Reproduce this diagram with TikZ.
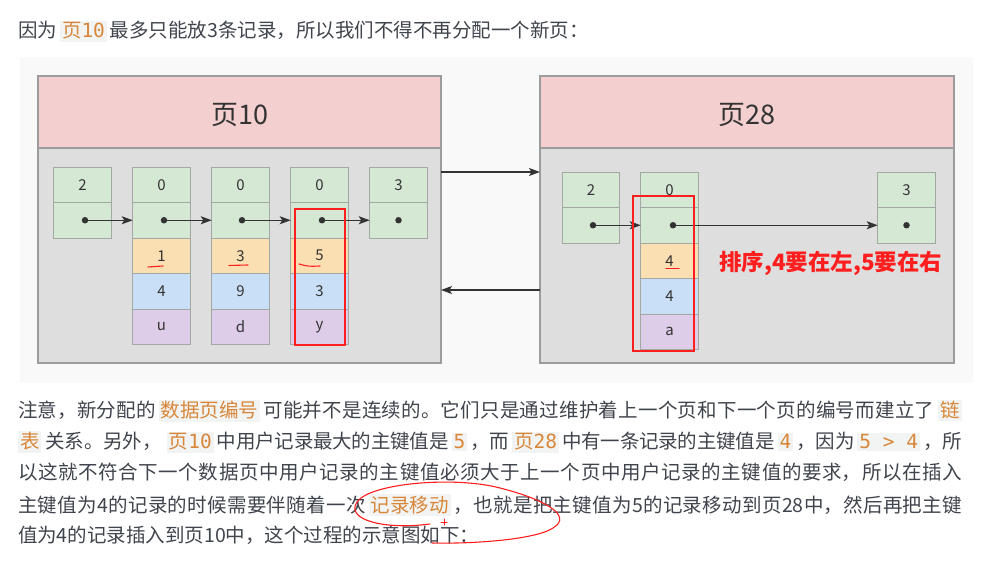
\documentclass[tikz,border=0pt]{standalone}
\usepackage{fontspec}
\setmainfont{Noto Sans CJK SC}
\newfontfamily\codefont{DejaVu Sans Mono}
\usetikzlibrary{arrows.meta}
\definecolor{panelbg}{HTML}{F9F9F9}
\definecolor{pagebody}{HTML}{DEDEDE}
\definecolor{pagehead}{HTML}{F3CFCF}
\definecolor{pageline}{HTML}{9C9C9C}
\definecolor{cgreen}{HTML}{D5E8D4}
\definecolor{corange}{HTML}{F9DFB1}
\definecolor{cblue}{HTML}{C9DFF7}
\definecolor{cpurple}{HTML}{DDCDE8}
\definecolor{cellline}{HTML}{A2A8A2}
\definecolor{ink}{HTML}{333333}
\definecolor{bodytext}{HTML}{40444C}
\definecolor{codefg}{HTML}{D8873A}
\definecolor{codebg}{HTML}{F2F3F3}
\definecolor{redmark}{HTML}{FF1E1E}
\XeTeXlinebreaklocale "zh"
\XeTeXlinebreakskip=0pt plus 4pt minus 1pt
\hbadness=10000 \hfuzz=300pt \vbadness=10000
\newcommand\codespan[1]{{\setlength\fboxsep{2pt}\colorbox{codebg}{\textcolor{codefg}{#1}}}}
\newcommand\cm[1]{{\codefont #1}}
\newcommand\fullline[1]{\parbox[t]{944pt}{\noindent\parfillskip=0pt\relax\linepenalty=5000\relax #1\par}}
\begin{document}
\begin{tikzpicture}[x=1pt,y=-1pt,
  pagebox/.style={draw=pageline, fill=pagebody, line width=1.1pt, inner sep=0pt, outer sep=0pt},
  headbox/.style={draw=pageline, fill=pagehead, line width=1.1pt, inner sep=0pt, outer sep=0pt},
  headtext/.style={inner sep=0pt, text=ink, font=\fontsize{27}{30}\selectfont},
  cell/.style={draw=cellline, line width=0.8pt, minimum width=57.5pt, minimum height=35.5pt, inner sep=0pt, outer sep=0pt, text=ink, font=\fontsize{15}{17}\selectfont},
  gcell/.style={cell, fill=cgreen},
  ocell/.style={cell, fill=corange},
  bcell/.style={cell, fill=cblue},
  pcell/.style={cell, fill=cpurple},
  dotnode/.style={circle, fill=ink, inner sep=0pt, minimum size=6.5pt},
  arr/.style={draw=ink, line width=1.3pt, -{Stealth[length=11pt,width=8pt,inset=2.5pt]}},
  redbox/.style={draw=redmark, line width=1.3pt},
  redline/.style={draw=redmark, line width=1.1pt, line cap=round},
  para/.style={inner sep=0pt, outer sep=0pt, anchor=base west, text=bodytext, font=\fontsize{19.5}{30}\selectfont}]
\useasboundingbox[fill=white] (0,0) rectangle (997,561);
\fill[panelbg] (20,57) rectangle (973,383);

% pages
\node[pagebox, minimum width=403pt, minimum height=287pt] (p10) at (239.5,219.5) {};
\node[headbox, minimum width=403pt, minimum height=72pt] (p10h) at (239.5,112) {};
\node[headtext] (p10t) at (240,115) {页10};
\node[pagebox, minimum width=414pt, minimum height=287pt] (p28) at (747,219.5) {};
\node[headbox, minimum width=414pt, minimum height=72pt] (p28h) at (747,112) {};
\node[headtext] (p28t) at (747,115) {页28};

% page 10 cells
\node[gcell] (a1t) at (82.5,184.75) {2};
\node[gcell] (a1b) at (82.5,220.25) {};
\node[gcell] (a2t) at (161.5,184.75) {0};
\node[gcell] (a2b) at (161.5,220.25) {};
\node[ocell] (a2k) at (161.5,255.75) {1};
\node[bcell] (a2v) at (161.5,291.25) {4};
\node[pcell] (a2s) at (161.5,326.75) {u};
\node[gcell] (a3t) at (240.5,184.75) {0};
\node[gcell] (a3b) at (240.5,220.25) {};
\node[ocell] (a3k) at (240.5,255.75) {3};
\node[bcell] (a3v) at (240.5,291.25) {9};
\node[pcell] (a3s) at (240.5,326.75) {d};
\node[gcell] (a4t) at (319.5,184.75) {0};
\node[gcell] (a4b) at (319.5,220.25) {};
\node[ocell] (a4k) at (319.5,255.75) {5};
\node[bcell] (a4v) at (319.5,291.25) {3};
\node[pcell] (a4s) at (319.5,326.75) {y};
\node[gcell] (a5t) at (398.5,184.75) {3};
\node[gcell] (a5b) at (398.5,220.25) {};

\node[dotnode] (ad1) at (85,220.25) {};
\node[dotnode] (ad2) at (164,220.25) {};
\node[dotnode] (ad3) at (242,220.25) {};
\node[dotnode] (ad4) at (322,220.25) {};
\node[dotnode] (ad5) at (398.5,220.25) {};
\draw[arr] (ad1) -- (a2b.west);
\draw[arr] (ad2) -- (a3b.west);
\draw[arr] (ad3) -- (a4b.west);
\draw[arr] (ad4) -- (a5b.west);

% page 28 cells
\node[gcell] (b1t) at (591,189.75) {2};
\node[gcell] (b1b) at (591,225.25) {};
\node[gcell] (b2t) at (669.5,189.75) {0};
\node[gcell] (b2b) at (669.5,225.25) {};
\node[ocell] (b2k) at (669.5,260.75) {4};
\node[bcell] (b2v) at (669.5,296.25) {4};
\node[pcell] (b2s) at (669.5,331.75) {a};
\node[gcell] (b3t) at (906.5,189.75) {3};
\node[gcell] (b3b) at (906.5,225.25) {};
\node[dotnode] (bd1) at (593,225.25) {};
\node[dotnode] (bd2) at (673,225.25) {};
\node[dotnode] (bd3) at (906.5,225.25) {};
\draw[arr] (bd1) -- (b2b.west);
\draw[arr] (bd2) -- (b3b.west);

% page links
\draw[arr] ([yshift=47.5pt]p10.east) -- ([yshift=47.5pt]p28.west);
\draw[arr] ([yshift=-70.5pt]p28.west) -- ([yshift=-70.5pt]p10.east);

% red annotations in the diagram
\draw[redbox] (295,209) rectangle (345,345);
\draw[redbox] (633,196) rectangle (694,351);
\draw[redline] (148,267) .. controls (155,266.5) .. (163,266);
\draw[redline] (229,265.5) -- (248,265);
\draw[redline] (299,264) .. controls (308,266.5) .. (320,266);
\draw[redline] (666,268.5) -- (679,268.5);
\node[anchor=west, inner sep=0pt, text=redmark, font=\fontsize{22.5}{26}\selectfont\bfseries] (note) at (719,263) {排序,4要在左,5要在右};

% text
\node[para] (l0) at (18,38) {因为\hspace{3pt}\codespan{页\cm{10}}\hspace{3pt}最多只能放3条记录，所以我们不得不再分配一个新页：};
\node[para] (l1) at (18,418) {\fullline{注意，新分配的\hspace{3pt}\codespan{数据页编号}\hspace{3pt}可能并不是连续的。它们只是通过维护着上一个页和下一个页的编号而建立了\hspace{4pt}\codespan{链}}};
\node[para] (l2) at (18,449) {\fullline{\codespan{表}\hspace{4pt}关系。另外，\hspace{5pt}\codespan{页\cm{10}}\hspace{3pt}中用户记录最大的主键值是\hspace{3pt}\codespan{\cm{5}}\hspace{3pt}，而\hspace{3pt}\codespan{页\cm{28}}\hspace{3pt}中有一条记录的主键值是\hspace{3pt}\codespan{\cm{4}}\hspace{3pt}，因为\hspace{3pt}\codespan{\cm{5 > 4}}\hspace{3pt}，所}};
\node[para] (l3) at (18,479) {\fullline{以这就不符合下一个数据页中用户记录的主键值必须大于上一个页中用户记录的主键值的要求，所以在插入}};
\node[para] (l4) at (18,512) {\fullline{主键值为4的记录的时候需要伴随着一次\hspace{3pt}\codespan{记录移动}\hspace{3pt}，也就是把主键值为5的记录移动到页28中，然后再把主键}};
\node[para] (l5) at (18,542) {值为4的记录插入到页10中，这个过程的示意图如下：};

% hand-drawn ellipse
\draw[redline] (430,524) .. controls (385,530) and (345,520) .. (357,502) .. controls (370,483) and (455,476) .. (500,488) .. controls (540,498) and (575,515) .. (553,528) .. controls (535,540) and (470,544) .. (432,543);
\draw[redline, line width=1pt] (441,522) -- (447,522) (444,519) -- (444,525);
\end{tikzpicture}
\end{document}
